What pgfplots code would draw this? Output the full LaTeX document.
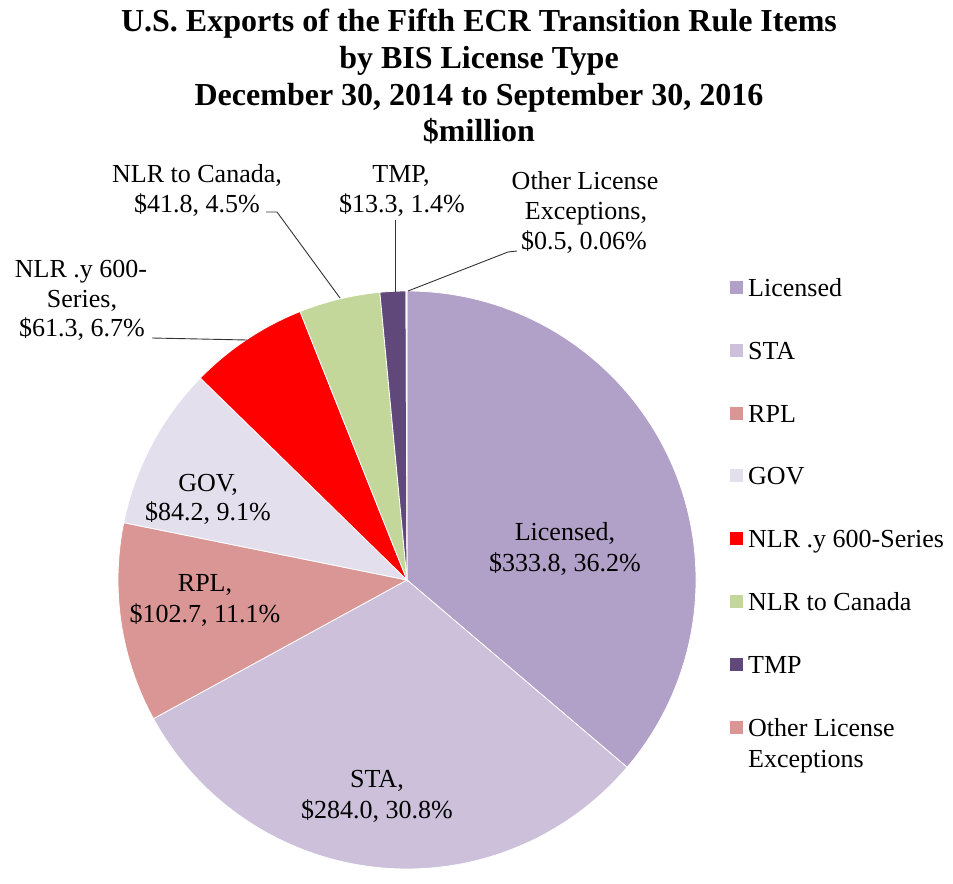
\documentclass[border=0pt]{standalone}
\usepackage{pgfplots}
\pgfplotsset{compat=1.18}
\usepackage{fontspec}
\setmainfont{Liberation Serif}
\definecolor{cLic}{HTML}{B1A0C7}
\definecolor{cSTA}{HTML}{CCC0DA}
\definecolor{cRPL}{HTML}{DA9694}
\definecolor{cGOV}{HTML}{E4DFEC}
\definecolor{cNLRy}{HTML}{FF0000}
\definecolor{cCan}{HTML}{C4D79B}
\definecolor{cTMP}{HTML}{60497A}
\definecolor{cOth}{HTML}{DA9694}
\newcommand\cum{0}
\newcommand\total{921.6}
\newcommand{\pieslice}[2]{%
  \pgfmathsetmacro\aA{90-(360/\total)*\cum}%
  \pgfmathsetmacro\newcum{\cum+#1}%
  \pgfmathsetmacro\aB{90-(360/\total)*\newcum}%
  \edef\doit{\noexpand\fill[#2, draw=white, line width=0.8pt] (axis cs:407,580) -- ++(\aA:289pt) arc[start angle=\aA, end angle=\aB, radius=289pt] -- cycle;}\doit
  \global\let\cum\newcum}
\newcommand\lab{\fontsize{26}{30}\selectfont}
\newcommand\ttl{\fontsize{32}{37}\selectfont\bfseries}
\begin{document}
\begin{tikzpicture}
\begin{axis}[hide axis, scale only axis, width=953pt, height=872pt,
  xmin=0, xmax=953, ymin=0, ymax=872, y dir=reverse, clip=false]
% pie slices: value (million $), colour
\pieslice{333.8}{cLic}
\pieslice{284.0}{cSTA}
\pieslice{102.7}{cRPL}
\pieslice{84.2}{cGOV}
\pieslice{61.3}{cNLRy}
\pieslice{41.8}{cCan}
\pieslice{13.3}{cTMP}
\pieslice{0.5}{cOth}
% title
\node[anchor=base, font=\ttl] at (axis cs:479,32) {U.S. Exports of the Fifth ECR Transition Rule Items};
\node[anchor=base, font=\ttl] at (axis cs:479,69) {by BIS License Type};
\node[anchor=base, font=\ttl] at (axis cs:479,106) {December 30, 2014 to September 30, 2016};
\node[anchor=base, font=\ttl] at (axis cs:479,142) {\$million};
% inside labels
\node[anchor=base, font=\lab] at (axis cs:565,540) {Licensed,};
\node[anchor=base, font=\lab] at (axis cs:565,571) {\$333.8, 36.2\%};
\node[anchor=base, font=\lab] at (axis cs:377,787) {STA,};
\node[anchor=base, font=\lab] at (axis cs:377,818) {\$284.0, 30.8\%};
\node[anchor=base, font=\lab] at (axis cs:205,591) {RPL,};
\node[anchor=base, font=\lab] at (axis cs:205,622) {\$102.7, 11.1\%};
\node[anchor=base, font=\lab] at (axis cs:208,491) {GOV,};
\node[anchor=base, font=\lab] at (axis cs:208,520) {\$84.2, 9.1\%};
% outside labels
\node[anchor=base, font=\lab] at (axis cs:81,277) {NLR .y 600-};
\node[anchor=base, font=\lab] at (axis cs:82,307) {Series,};
\node[anchor=base, font=\lab] at (axis cs:82,336) {\$61.3, 6.7\%};
\node[anchor=base, font=\lab] at (axis cs:197,183) {NLR to Canada,};
\node[anchor=base, font=\lab] at (axis cs:197,213) {\$41.8, 4.5\%};
\node[anchor=base, font=\lab] at (axis cs:401,183) {TMP,};
\node[anchor=base, font=\lab] at (axis cs:402,213) {\$13.3, 1.4\%};
\node[anchor=base, font=\lab] at (axis cs:585,190) {Other License};
\node[anchor=base, font=\lab] at (axis cs:586,220) {Exceptions,};
\node[anchor=base, font=\lab] at (axis cs:584,250) {\$0.5, 0.06\%};
% leader lines
\draw[black!80, line width=0.9pt] (axis cs:152,338) -- (axis cs:247,340);
\draw[black!80, line width=0.9pt] (axis cs:266,212) -- (axis cs:277,212) -- (axis cs:340,298);
\draw[black!80, line width=0.9pt] (axis cs:395,220) -- (axis cs:395,292);
\draw[black!80, line width=0.9pt] (axis cs:517,251) -- (axis cs:508,252) -- (axis cs:408,291);
% legend
\fill[cLic] (axis cs:730,281) rectangle (axis cs:743,294);
\node[anchor=base west, font=\lab, inner sep=0pt] at (axis cs:748,296) {Licensed};
\fill[cSTA] (axis cs:730,344) rectangle (axis cs:743,357);
\node[anchor=base west, font=\lab, inner sep=0pt] at (axis cs:748,359) {STA};
\fill[cRPL] (axis cs:730,407) rectangle (axis cs:743,420);
\node[anchor=base west, font=\lab, inner sep=0pt] at (axis cs:748,422) {RPL};
\fill[cGOV] (axis cs:730,469) rectangle (axis cs:743,482);
\node[anchor=base west, font=\lab, inner sep=0pt] at (axis cs:748,484) {GOV};
\fill[cNLRy] (axis cs:730,532) rectangle (axis cs:743,545);
\node[anchor=base west, font=\lab, inner sep=0pt] at (axis cs:748,547) {NLR .y 600-Series};
\fill[cCan] (axis cs:730,595) rectangle (axis cs:743,608);
\node[anchor=base west, font=\lab, inner sep=0pt] at (axis cs:748,610) {NLR to Canada};
\fill[cTMP] (axis cs:730,658) rectangle (axis cs:743,671);
\node[anchor=base west, font=\lab, inner sep=0pt] at (axis cs:748,673) {TMP};
\fill[cOth] (axis cs:730,721) rectangle (axis cs:743,734);
\node[anchor=base west, font=\lab, inner sep=0pt] at (axis cs:748,736) {Other License};
\node[anchor=base west, font=\lab, inner sep=0pt] at (axis cs:748,767) {Exceptions};
\end{axis}
\path (current axis.south west) rectangle (current axis.north east);
\end{tikzpicture}
\end{document}
